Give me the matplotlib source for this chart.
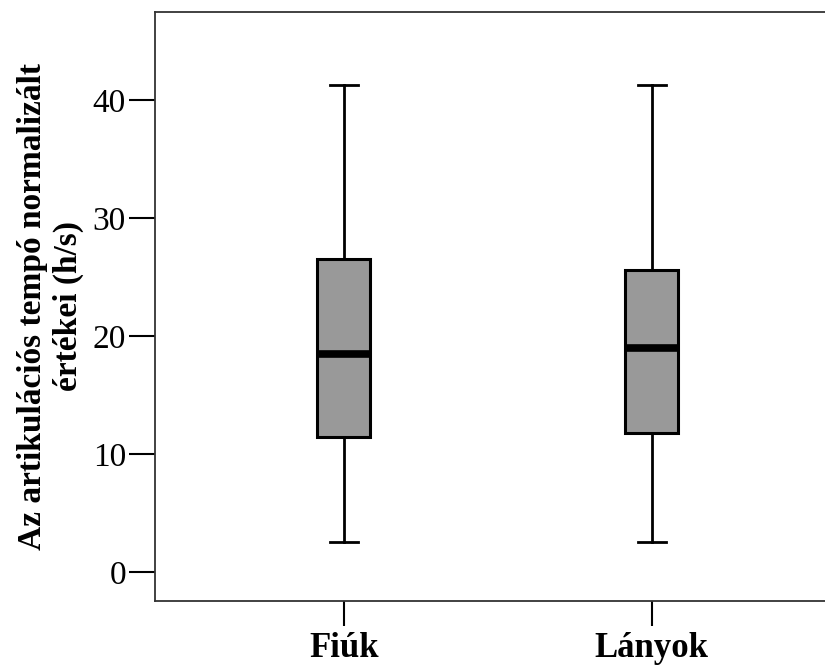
import matplotlib.pyplot as plt

groups = ['Fiúk', 'Lányok']
whisk_low = [2.5, 2.5]
q1 = [11.45, 11.75]
median = [18.5, 18.95]
q3 = [26.55, 25.6]
whisk_high = [41.3, 41.3]

plt.rcParams['font.family'] = ['Liberation Serif', 'DejaVu Serif']

fig = plt.figure(figsize=(8.25, 6.66), dpi=100)
ax = fig.add_axes([0.188, 0.0976, 0.815, 0.8844])

stats = []
for i in range(len(groups)):
    stats.append({'label': groups[i], 'whislo': whisk_low[i], 'q1': q1[i],
                  'med': median[i], 'q3': q3[i], 'whishi': whisk_high[i],
                  'fliers': []})

ax.bxp(stats, positions=[1, 2], widths=0.172, patch_artist=True,
       showfliers=False, manage_ticks=False,
       boxprops=dict(facecolor='#999999', edgecolor='black', linewidth=2.2),
       medianprops=dict(color='black', linewidth=5.5, solid_capstyle='butt'),
       whiskerprops=dict(color='black', linewidth=2.0),
       capprops=dict(color='black', linewidth=2.0),
       capwidths=0.09)

ax.set_xlim(0.3876, 2.57)
ax.set_ylim(-2.46, 47.46)
ax.set_xticks([1, 2])
ax.set_xticklabels(groups, fontsize=25, fontweight='bold')
ax.set_yticks([0, 10, 20, 30, 40])
ax.tick_params(axis='y', labelsize=24, length=19, width=1.5, pad=2)
ax.tick_params(axis='x', length=18, width=1.5, pad=4)

for s in ['left', 'top', 'bottom']:
    ax.spines[s].set_color('#333333')
    ax.spines[s].set_linewidth(1.3)
ax.spines['right'].set_visible(False)

ax.set_ylabel('Az artikulációs tempó normalizált\nértékei (h/s)', fontsize=24,
              fontweight='bold', linespacing=1.2, labelpad=6)

fig.savefig('out.png', dpi=100)
